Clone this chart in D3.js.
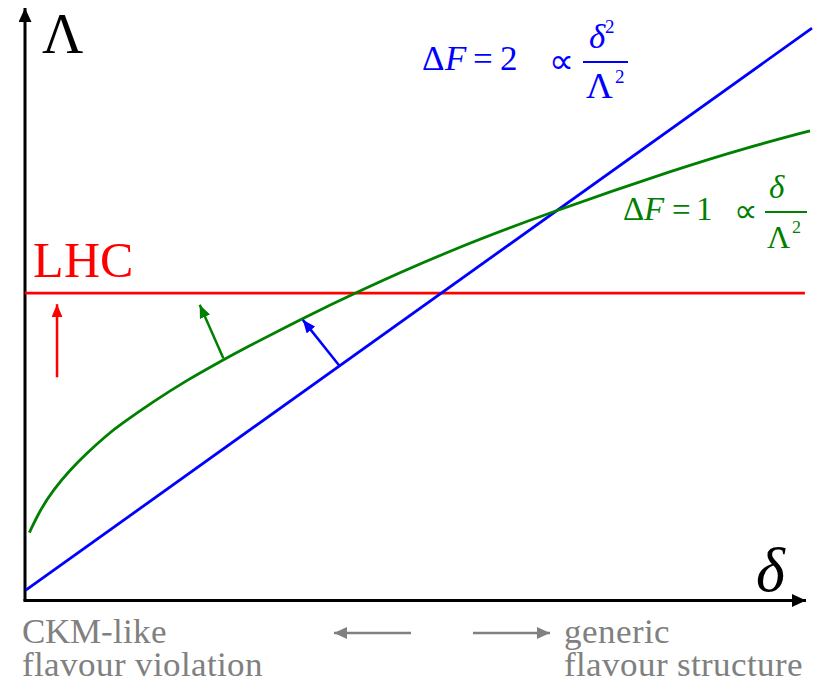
<!DOCTYPE html>
<html>
<head>
<meta charset="utf-8">
<script src="https://cdn.jsdelivr.net/npm/d3@7"></script>
<style>
  body { margin: 0; background: #fff; }
  @font-face { font-family: 'SerifX'; src: local('Liberation Serif'), local('LiberationSerif'); }
  @font-face { font-family: 'SerifX'; font-style: italic; src: local('Liberation Serif Italic'), local('LiberationSerif-Italic'); }
  svg text { font-family: SerifX, 'Liberation Serif', serif !important; }
</style>
</head>
<body>
<svg id="chart" width="817" height="684"></svg>
<script>
// sketch values (delta vs Lambda, arbitrary units 0..100)
const greenDelta = [0.55, 1.91, 3.60, 5.72, 7.84, 10.38, 12.07, 16.30, 20.55, 25.20, 27.32, 35.32, 41.80, 54.00, 66.45, 83.23, 91.5, 99.75];
const greenLambda = [11.6, 15.5, 19.0, 22.4, 25.3, 28.4, 30.2, 34.2, 37.9, 41.4, 43.0, 48.6, 52.9, 60.3, 66.7, 74.5, 77.9, 80.9];
const blueDelta = [0.1, 100];
const blueLambda = [1.7, 98.6];
const lhcDelta = [0, 99.1];
const lhcLambda = 52.9;

// little arrows: [delta0, lambda0, delta1, lambda1]
const redArrow = [4.07, 38.4, 4.07, 51.0];
const greenArrow = [25.2, 41.7, 22.2, 50.9];
const blueArrow = [40.0, 40.3, 35.3, 48.3];

const BLUE = '#0000ff', GREEN = '#008000', RED = '#ff0000', GREY = '#808080';

const svg = d3.select('#chart');

const x = d3.scaleLinear().domain([0, 100]).range([25, 812]);
const y = d3.scaleLinear().domain([0, 100]).range([600, 20]);

function label(parent, px, py, size, str) {
  return parent.append('text')
    .attr('x', px).attr('y', py)
    .attr('font-family', 'SerifX')
    .style('font-size', size + 'px')
    .text(str);
}

// axis titles
label(svg, 42, 53, 57, 'Λ');
label(svg, 756, 591, 62, 'δ').style('font-style', 'italic');
label(svg, 33, 277, 50, 'LHC').attr('fill', RED);

// formula labels
function formula(g, o) {
  const t = label(g, o.x, o.y, o.size, null).attr('fill', o.color);
  t.append('tspan').text('Δ');
  t.append('tspan').style('font-style', 'italic').text('F');
  t.append('tspan').attr('dx', o.gap).text('=');
  t.append('tspan').attr('dx', o.gap2).text(o.n);
  label(g, o.px, o.fy + o.size * 0.3, o.size, '∝').attr('fill', o.color);
  g.append('line').attr('x1', o.fx0).attr('x2', o.fx1)
    .attr('y1', o.fy).attr('y2', o.fy)
    .attr('stroke', o.color).attr('stroke-width', 2);
  const num = label(g, o.nx, o.fy - 14, o.size, null).attr('fill', o.color);
  num.append('tspan').style('font-style', 'italic').text('δ');
  if (o.sq) num.append('tspan').attr('dy', -15).style('font-size', (o.size * 0.55) + 'px').text('2');
  const den = label(g, o.dx, o.fy + 36, o.dsize, null).attr('fill', o.color);
  den.append('tspan').text('Λ');
  den.append('tspan').attr('dx', 2).attr('dy', -15).style('font-size', (o.size * 0.55) + 'px').text('2');
}

formula(svg.append('g'), {
  color: BLUE, size: 35, dsize: 37, x: 422, y: 70, gap: 7, gap2: 7, n: '2',
  px: 549, fy: 62, fx0: 583, fx1: 628, nx: 589, sq: true, dx: 586
});
formula(svg.append('g'), {
  color: GREEN, size: 33, dsize: 32, x: 623, y: 220, gap: 8, gap2: 5, n: '1',
  px: 734, fy: 212, fx0: 765, fx1: 807, nx: 769, sq: false, dx: 767
});

// bottom captions
const cap = svg.append('g').attr('fill', GREY);
label(cap, 22, 643, 35, 'CKM-like');
label(cap, 22, 676, 35, 'flavour violation');
label(cap, 564, 643, 35, 'generic');
label(cap, 564, 676, 35, 'flavour structure');

// arrowhead markers
const defs = svg.append('defs');
function marker(id, color, len, half) {
  defs.append('marker')
    .attr('id', id)
    .attr('markerUnits', 'userSpaceOnUse')
    .attr('viewBox', `0 ${-half} ${len} ${2 * half}`)
    .attr('refX', len)
    .attr('refY', 0)
    .attr('markerWidth', len)
    .attr('markerHeight', 2 * half)
    .attr('orient', 'auto')
    .append('path')
    .attr('d', `M0,${-half}L${len},0L0,${half}Z`)
    .attr('fill', color);
}
marker('ax', '#000', 14, 6.5);
marker('ar-red', RED, 13, 5.5);
marker('ar-green', GREEN, 13, 5.5);
marker('ar-blue', BLUE, 13, 5.5);
marker('ar-grey', GREY, 13, 6);

// axes
svg.append('line')
  .attr('x1', x(0)).attr('y1', y(0) + 1)
  .attr('x2', x(0)).attr('y2', 8)
  .attr('stroke', '#000').attr('stroke-width', 3)
  .attr('marker-end', 'url(#ax)');
svg.append('line')
  .attr('x1', x(0) - 1.5).attr('y1', y(0) + 0.5)
  .attr('x2', 806).attr('y2', y(0) + 0.5)
  .attr('stroke', '#000').attr('stroke-width', 3)
  .attr('marker-end', 'url(#ax)');

// LHC bound
svg.append('line')
  .attr('x1', x(lhcDelta[0])).attr('x2', x(lhcDelta[1]))
  .attr('y1', y(lhcLambda)).attr('y2', y(lhcLambda))
  .attr('stroke', RED).attr('stroke-width', 2.8);

// dF=2 line
const line = d3.line().x(d => x(d[0])).y(d => y(d[1]));
svg.append('path')
  .datum(d3.zip(blueDelta, blueLambda))
  .attr('d', line)
  .attr('fill', 'none').attr('stroke', BLUE).attr('stroke-width', 2.8);

// dF=1 curve
svg.append('path')
  .datum(d3.zip(greenDelta, greenLambda))
  .attr('d', line.curve(d3.curveBasis))
  .attr('fill', 'none').attr('stroke', GREEN).attr('stroke-width', 2.8);

// small arrows
[[redArrow, RED, 'ar-red'], [greenArrow, GREEN, 'ar-green'], [blueArrow, BLUE, 'ar-blue']]
  .forEach(([a, c, m]) => {
    svg.append('line')
      .attr('x1', x(a[0])).attr('y1', y(a[1]))
      .attr('x2', x(a[2])).attr('y2', y(a[3]))
      .attr('stroke', c).attr('stroke-width', 2.5)
      .attr('marker-end', `url(#${m})`);
  });

svg.append('line').attr('x1', 411).attr('x2', 334).attr('y1', 633).attr('y2', 633)
  .attr('stroke', GREY).attr('stroke-width', 2.5).attr('marker-end', 'url(#ar-grey)');
svg.append('line').attr('x1', 473).attr('x2', 550).attr('y1', 633).attr('y2', 633)
  .attr('stroke', GREY).attr('stroke-width', 2.5).attr('marker-end', 'url(#ar-grey)');
</script>
</body>
</html>
